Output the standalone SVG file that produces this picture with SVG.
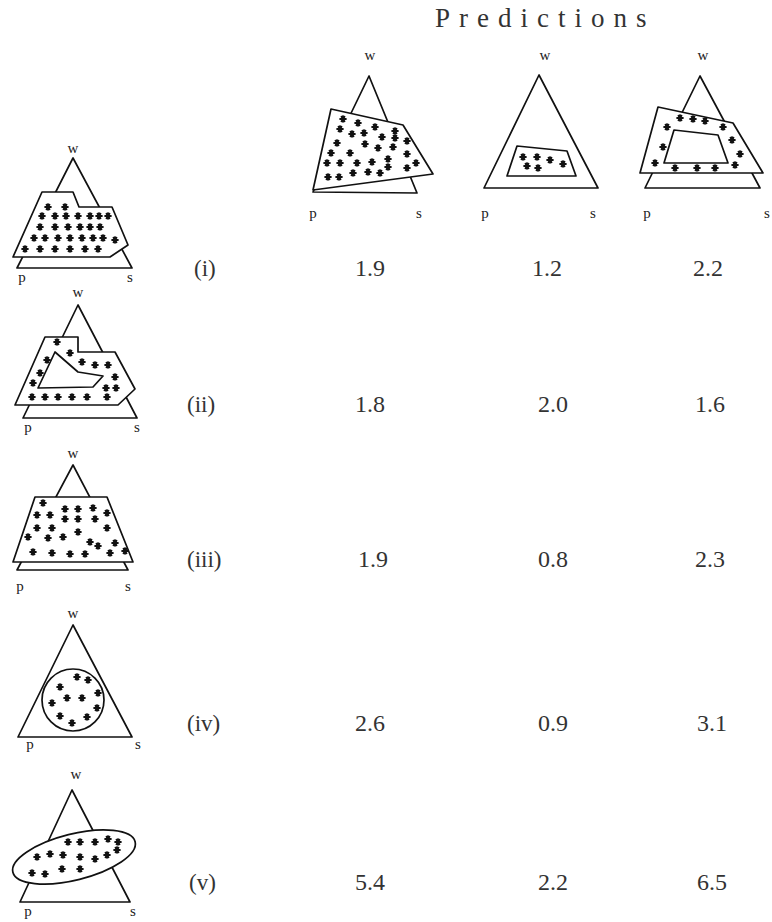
<svg xmlns="http://www.w3.org/2000/svg" xmlns:xlink="http://www.w3.org/1999/xlink" width="772" height="922" viewBox="0 0 772 922">
<style>
.sh{fill:#fff;stroke:#111;stroke-width:1.7;stroke-linejoin:round}
.lbl{font-family:"Liberation Serif",serif;font-size:15px;fill:#222}
.num{font-family:"Liberation Serif",serif;font-size:24px;fill:#333;text-anchor:middle}
.rn{font-family:"Liberation Serif",serif;font-size:23px;fill:#333}
.ttl{font-family:"Liberation Serif",serif;font-size:27px;fill:#333;letter-spacing:9px}
</style>
<defs>
<g id="st"><path d="M-3.6,0H3.6M-1.8,-3.1L1.8,3.1M1.8,-3.1L-1.8,3.1M0,-3.6V3.6" stroke="#111" stroke-width="1.9" fill="none"/></g>
</defs>
<rect width="772" height="922" fill="#fff"/>
<text class="ttl" x="435" y="27">Predictions</text>

<!-- Prediction 1 -->
<g id="pred1">
<polygon class="sh" points="369,76 313,192 417,193"/>
<polygon class="sh" points="331,109 403,125 433,174 313,190"/>
<g>
<use href="#st" x="343" y="119"/><use href="#st" x="358" y="123"/><use href="#st" x="340" y="129"/><use href="#st" x="352" y="134"/><use href="#st" x="364" y="133"/><use href="#st" x="375" y="127"/><use href="#st" x="382" y="137"/><use href="#st" x="395" y="131"/><use href="#st" x="395" y="138"/><use href="#st" x="407" y="141"/>
<use href="#st" x="337" y="143"/><use href="#st" x="350" y="153"/><use href="#st" x="365" y="144"/><use href="#st" x="378" y="148"/><use href="#st" x="393" y="147"/><use href="#st" x="407" y="154"/><use href="#st" x="331" y="153"/>
<use href="#st" x="327" y="163"/><use href="#st" x="340" y="163"/><use href="#st" x="357" y="163"/><use href="#st" x="372" y="162"/><use href="#st" x="388" y="159"/><use href="#st" x="388" y="167"/><use href="#st" x="407" y="168"/><use href="#st" x="416" y="163"/>
<use href="#st" x="328" y="177"/><use href="#st" x="339" y="177"/><use href="#st" x="353" y="173"/><use href="#st" x="368" y="172"/><use href="#st" x="380" y="173"/>
</g>
<text class="lbl" x="370" y="60" text-anchor="middle">w</text>
<text class="lbl" x="313" y="218" text-anchor="middle">p</text>
<text class="lbl" x="419" y="218" text-anchor="middle">s</text>
</g>

<!-- Prediction 2 -->
<g id="pred2">
<polygon class="sh" points="539,75 484,188 598,188"/>
<polygon class="sh" points="517,146 567,151 576,176 507,176"/>
<use href="#st" x="523" y="157"/><use href="#st" x="537" y="157"/><use href="#st" x="550" y="160"/><use href="#st" x="563" y="164"/><use href="#st" x="527" y="166"/><use href="#st" x="538" y="168"/>
<text class="lbl" x="545" y="60" text-anchor="middle">w</text>
<text class="lbl" x="485" y="218" text-anchor="middle">p</text>
<text class="lbl" x="593" y="218" text-anchor="middle">s</text>
</g>

<!-- Prediction 3 -->
<g id="pred3">
<polygon class="sh" points="700,76 645,188 760,188"/>
<polygon class="sh" points="658,107 733,123 763,173 640,173"/>
<polygon class="sh" points="674,130 718,135 728,163 664,163"/>
<use href="#st" x="680" y="118"/><use href="#st" x="693" y="119"/><use href="#st" x="705" y="121"/><use href="#st" x="723" y="127"/><use href="#st" x="667" y="127"/><use href="#st" x="663" y="147"/><use href="#st" x="732" y="140"/><use href="#st" x="740" y="154"/><use href="#st" x="655" y="163"/><use href="#st" x="735" y="165"/><use href="#st" x="675" y="168"/><use href="#st" x="697" y="168"/><use href="#st" x="715" y="168"/>
<text class="lbl" x="703" y="60" text-anchor="middle">w</text>
<text class="lbl" x="647" y="218" text-anchor="middle">p</text>
<text class="lbl" x="767" y="218" text-anchor="middle">s</text>
</g>

<!-- Row i -->
<g id="row1">
<polygon class="sh" points="73,158 17,268 132,268"/>
<polygon class="sh" points="42,192 73,192 79,207 112,207 128,245 110,257 13,257"/>
<use href="#st" x="48" y="207"/><use href="#st" x="65" y="207"/>
<use href="#st" x="42" y="216"/><use href="#st" x="55" y="216"/><use href="#st" x="66" y="216"/><use href="#st" x="78" y="216"/><use href="#st" x="90" y="216"/><use href="#st" x="99" y="216"/><use href="#st" x="108" y="216"/>
<use href="#st" x="40" y="227"/><use href="#st" x="55" y="227"/><use href="#st" x="68" y="227"/><use href="#st" x="80" y="227"/><use href="#st" x="90" y="227"/><use href="#st" x="100" y="227"/>
<use href="#st" x="34" y="238"/><use href="#st" x="45" y="238"/><use href="#st" x="58" y="238"/><use href="#st" x="70" y="238"/><use href="#st" x="82" y="238"/><use href="#st" x="93" y="238"/><use href="#st" x="103" y="238"/><use href="#st" x="115" y="240"/>
<use href="#st" x="25" y="249"/><use href="#st" x="40" y="249"/><use href="#st" x="55" y="249"/><use href="#st" x="70" y="249"/><use href="#st" x="85" y="249"/><use href="#st" x="98" y="249"/>
<text class="lbl" x="73" y="153" text-anchor="middle">w</text>
<text class="lbl" x="22" y="282" text-anchor="middle">p</text>
<text class="lbl" x="130" y="282" text-anchor="middle">s</text>
<text class="rn" x="194" y="276">(i)</text>
<text class="num" x="370" y="276">1.9</text>
<text class="num" x="547" y="276">1.2</text>
<text class="num" x="708" y="276">2.2</text>
</g>

<!-- Row ii -->
<g id="row2">
<polygon class="sh" points="78,305 23,418 137,418"/>
<polygon class="sh" points="45,337 78,337 78,352 115,352 135,389 118,405 15,405"/>
<polygon class="sh" points="55,352 78,372 103,376 93,387 38,388"/>
<use href="#st" x="57" y="342"/><use href="#st" x="70" y="353"/><use href="#st" x="47" y="360"/><use href="#st" x="40" y="373"/><use href="#st" x="33" y="383"/>
<use href="#st" x="82" y="362"/><use href="#st" x="95" y="365"/><use href="#st" x="108" y="365"/><use href="#st" x="115" y="377"/><use href="#st" x="106" y="388"/><use href="#st" x="116" y="388"/>
<use href="#st" x="32" y="397"/><use href="#st" x="45" y="397"/><use href="#st" x="58" y="397"/><use href="#st" x="72" y="397"/><use href="#st" x="87" y="397"/><use href="#st" x="107" y="397"/>
<text class="lbl" x="78" y="297" text-anchor="middle">w</text>
<text class="lbl" x="28" y="432" text-anchor="middle">p</text>
<text class="lbl" x="137" y="432" text-anchor="middle">s</text>
<text class="rn" x="187" y="412">(ii)</text>
<text class="num" x="370" y="412">1.8</text>
<text class="num" x="553" y="412">2.0</text>
<text class="num" x="710" y="412">1.6</text>
</g>

<!-- Row iii -->
<g id="row3">
<polygon class="sh" points="73,465 17,570 128,570"/>
<polygon class="sh" points="35,497 107,497 133,562 13,562"/>
<use href="#st" x="43" y="503"/>
<use href="#st" x="37" y="515"/><use href="#st" x="50" y="515"/><use href="#st" x="65" y="509"/><use href="#st" x="78" y="509"/><use href="#st" x="93" y="508"/><use href="#st" x="107" y="513"/>
<use href="#st" x="65" y="519"/><use href="#st" x="78" y="519"/><use href="#st" x="95" y="519"/>
<use href="#st" x="37" y="528"/><use href="#st" x="52" y="528"/><use href="#st" x="78" y="532"/><use href="#st" x="107" y="528"/>
<use href="#st" x="28" y="537"/><use href="#st" x="48" y="538"/><use href="#st" x="63" y="537"/><use href="#st" x="90" y="542"/><use href="#st" x="98" y="546"/><use href="#st" x="115" y="543"/>
<use href="#st" x="33" y="552"/><use href="#st" x="52" y="553"/><use href="#st" x="70" y="554"/><use href="#st" x="85" y="554"/><use href="#st" x="110" y="553"/><use href="#st" x="125" y="551"/>
<text class="lbl" x="73" y="458" text-anchor="middle">w</text>
<text class="lbl" x="20" y="591" text-anchor="middle">p</text>
<text class="lbl" x="128" y="591" text-anchor="middle">s</text>
<text class="rn" x="187" y="567">(iii)</text>
<text class="num" x="373" y="567">1.9</text>
<text class="num" x="553" y="567">0.8</text>
<text class="num" x="710" y="567">2.3</text>
</g>

<!-- Row iv -->
<g id="row4">
<polygon class="sh" points="73,625 18,737 132,737"/>
<circle class="sh" cx="73" cy="700" r="31"/>
<use href="#st" x="77" y="677"/><use href="#st" x="60" y="687"/><use href="#st" x="88" y="680"/><use href="#st" x="98" y="693"/><use href="#st" x="52" y="703"/><use href="#st" x="67" y="698"/><use href="#st" x="82" y="698"/><use href="#st" x="97" y="708"/><use href="#st" x="60" y="716"/><use href="#st" x="72" y="723"/><use href="#st" x="87" y="717"/>
<text class="lbl" x="73" y="618" text-anchor="middle">w</text>
<text class="lbl" x="30" y="749" text-anchor="middle">p</text>
<text class="lbl" x="138" y="749" text-anchor="middle">s</text>
<text class="rn" x="187" y="731">(iv)</text>
<text class="num" x="370" y="731">2.6</text>
<text class="num" x="553" y="731">0.9</text>
<text class="num" x="712" y="731">3.1</text>
</g>

<!-- Row v -->
<g id="row5">
<polygon class="sh" points="72,790 20,902 130,902"/>
<ellipse class="sh" cx="74" cy="857" rx="63" ry="23" transform="rotate(-14 74 857)"/>
<use href="#st" x="68" y="842"/><use href="#st" x="80" y="842"/><use href="#st" x="95" y="842"/><use href="#st" x="108" y="839"/><use href="#st" x="118" y="842"/>
<use href="#st" x="37" y="857"/><use href="#st" x="50" y="854"/><use href="#st" x="63" y="855"/><use href="#st" x="80" y="857"/><use href="#st" x="95" y="859"/><use href="#st" x="107" y="855"/><use href="#st" x="117" y="850"/>
<use href="#st" x="32" y="873"/><use href="#st" x="45" y="874"/><use href="#st" x="62" y="869"/><use href="#st" x="80" y="869"/>
<text class="lbl" x="76" y="779" text-anchor="middle">w</text>
<text class="lbl" x="28" y="916" text-anchor="middle">p</text>
<text class="lbl" x="133" y="916" text-anchor="middle">s</text>
<text class="rn" x="189" y="890">(v)</text>
<text class="num" x="370" y="890">5.4</text>
<text class="num" x="553" y="890">2.2</text>
<text class="num" x="712" y="890">6.5</text>
</g>
</svg>
